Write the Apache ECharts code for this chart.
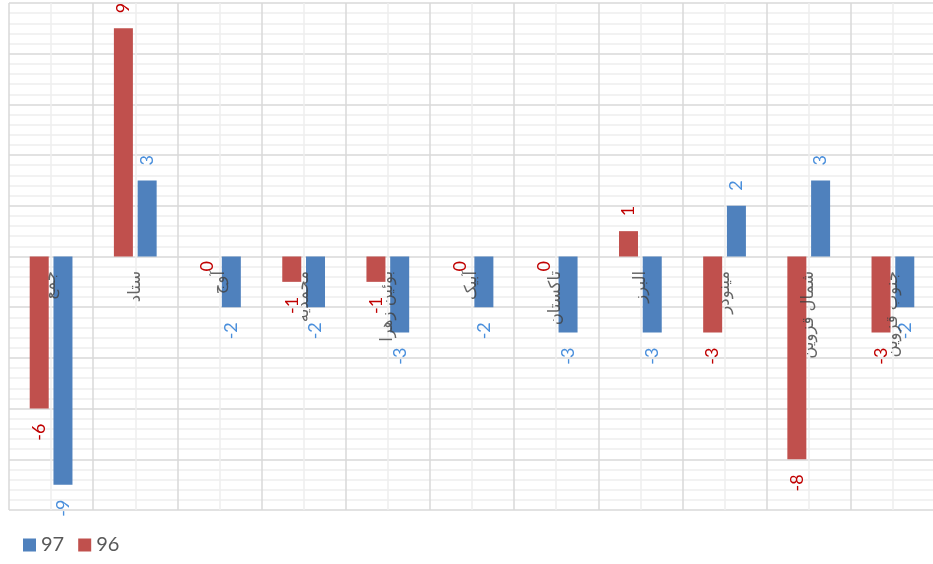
<!DOCTYPE html>
<html>
<head>
<meta charset="utf-8">
<script src="https://cdn.jsdelivr.net/npm/echarts@6/dist/echarts.min.js"></script>
<style>html,body{margin:0;padding:0;background:#fff}#c{width:933px;height:564px}</style>
</head>
<body>
<div id="c"></div>
<script>
const categories = ['جمع', 'ستاد', 'آوج', 'محمدیه', 'بوئین زهرا', 'آبیک', 'تاکستان', 'البرز', 'مینودر', 'شمال قزوین', 'جنوب قزوین'];
const values96 = [-6, 9, 0, -1, -1, 0, 0, 1, -3, -8, -3];
const values97 = [-9, 3, -2, -2, -3, -2, -3, -3, 2, 3, -2];
const legendNames = ['97', '96'];

const numFont = "Lato, 'Open Sans', sans-serif";
function withLabels(arr) {
  return arr.map(v => ({ value: v, label: { align: v < 0 ? 'right' : 'left' } }));
}

const chart = echarts.init(document.getElementById('c'), null, { renderer: 'canvas' });
chart.setOption({
  animation: false,
  backgroundColor: '#ffffff',
  grid: { left: 9, top: 3, width: 926, bottom: 54, containLabel: false, outerBoundsMode: 'none' },
  legend: {
    data: legendNames,
    left: 18, bottom: 4,
    itemWidth: 13, itemHeight: 13, itemGap: 14,
    icon: 'rect',
    textStyle: { fontSize: 20, color: '#595959', fontFamily: numFont }
  },
  xAxis: [
    {
      type: 'category', data: categories, position: 'bottom',
      axisLine: { show: false }, axisTick: { show: false },
      splitLine: { show: false }, axisLabel: { show: false }
    },
    {
      type: 'value', min: 0, max: 22, interval: 2, position: 'top', z: 0,
      axisLine: { show: false, onZero: false }, axisTick: { show: false }, axisLabel: { show: false },
      splitLine: { show: true, lineStyle: { color: '#d9d9d9', width: 1.5 } },
      minorTick: { show: false, splitNumber: 2 },
      minorSplitLine: { show: true, lineStyle: { color: '#eeeeee', width: 1.5 } }
    }
  ],
  yAxis: {
    type: 'value', min: -10, max: 10, interval: 2, z: 0,
    axisLine: { show: false, onZero: false }, axisTick: { show: false }, axisLabel: { show: false },
    splitLine: { show: true, lineStyle: { color: '#d9d9d9', width: 1.5 } },
    minorTick: { show: false, splitNumber: 5 },
    minorSplitLine: { show: true, lineStyle: { color: '#eeeeee', width: 1.5 } }
  },
  series: [
    {
      name: '96', type: 'bar', xAxisIndex: 0, barWidth: 19, barGap: '25%',
      itemStyle: { color: '#c0504d' },
      label: {
        show: true, position: 'outside', rotate: 90, distance: 15, verticalAlign: 'middle',
        fontSize: 18, color: '#c00000', fontFamily: numFont
      },
      data: withLabels(values96)
    },
    {
      name: '97', type: 'bar', xAxisIndex: 0, barWidth: 19, barGap: '25%',
      itemStyle: { color: '#4f81bd' },
      label: {
        show: true, position: 'outside', rotate: 90, distance: 15, verticalAlign: 'middle',
        fontSize: 18, color: '#4a8fdc', fontFamily: numFont
      },
      data: withLabels(values97)
    },
    {
      name: 'categoryLabels', type: 'scatter', xAxisIndex: 0, z: 5, silent: true,
      symbolSize: 1, itemStyle: { color: 'rgba(0,0,0,0)' },
      label: {
        show: true, position: 'bottom', distance: 14, rotate: 90,
        align: 'right', verticalAlign: 'middle',
        fontSize: 16.5, color: '#404040', fontFamily: "'DejaVu Sans', sans-serif",
        formatter: p => p.value[0]
      },
      data: categories.map(c => [c, 0])
    }
  ]
});
</script>
</body>
</html>
